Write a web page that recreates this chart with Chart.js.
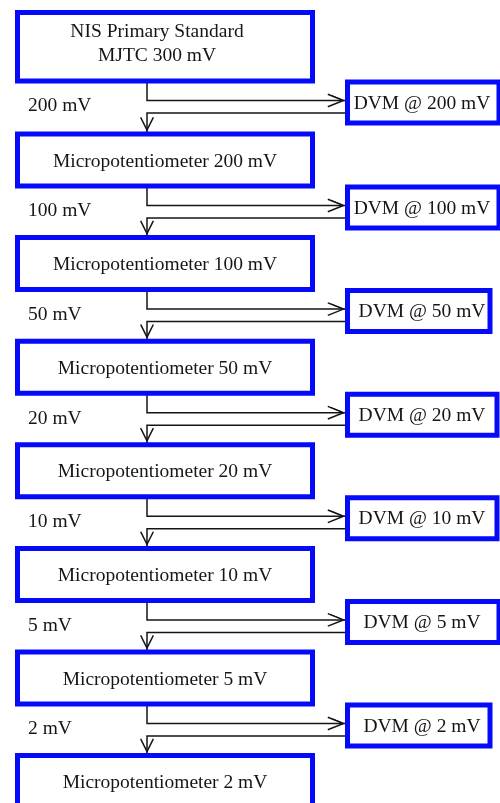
<!DOCTYPE html>
<html>
<head>
<meta charset="utf-8">
<script src="https://cdn.jsdelivr.net/npm/chart.js@4.4.1/dist/chart.umd.min.js"></script>
<style>
  html, body { margin: 0; padding: 0; background: #fff; }
  #wrap { width: 500px; height: 803px; position: relative; }
</style>
</head>
<body>
<div id="wrap"><canvas id="flow"></canvas></div>
<script>
// Diagram content
const stageLabels = [
  ['NIS Primary Standard', 'MJTC 300 mV'],
  ['Micropotentiometer 200 mV'],
  ['Micropotentiometer 100 mV'],
  ['Micropotentiometer 50 mV'],
  ['Micropotentiometer 20 mV'],
  ['Micropotentiometer 10 mV'],
  ['Micropotentiometer 5 mV'],
  ['Micropotentiometer 2 mV'],
];
const stepLabels = ['200 mV', '100 mV', '50 mV', '20 mV', '10 mV', '5 mV', '2 mV'];
const dvmLabels = ['DVM @ 200 mV', 'DVM @ 100 mV', 'DVM @ 50 mV', 'DVM @ 20 mV',
  'DVM @ 10 mV', 'DVM @ 5 mV', 'DVM @ 2 mV'];

// Layout (in axis units, axes span the page 1:1)
const layout = {
  boxLeft: 17.5, boxRight: 312.5,
  firstTop: 12.5, firstBottom: 81,
  rowTop: 134, pitch: 103.6, boxH: 52,
  stemX: 147, drop: 19.5, lineGap: 12.5,
  dvmLeft: 347.5, dvmRight: [499, 499, 490, 497, 497, 499, 490],
  dvmAbove: 18.5, dvmH: 41,
  textX: 165, firstTextX: 157, dvmTextX: 422, stepX: 28,
};
const blue = 'rgb(5, 10, 250)';
const ink = '#151515';
const font = '19.5px "Liberation Serif", "Times New Roman", serif';

function stageTop(i) { return i === 0 ? layout.firstTop : layout.rowTop + (i - 1) * layout.pitch; }
function stageBottom(i) {
  if (i === 0) return layout.firstBottom;
  if (i === stageLabels.length - 1) return 840;
  return stageTop(i) + layout.boxH;
}
function upperY(i) { return stageBottom(i) + layout.drop; }
function lowerY(i) { return upperY(i) + layout.lineGap; }

function rect(l, t, r, b) {
  return [{ x: l, y: t }, { x: r, y: t }, { x: r, y: b }, { x: l, y: b }, { x: l, y: t }];
}

const datasets = [];
function addLine(data, color, width) {
  datasets.push({
    data, borderColor: color, borderWidth: width, pointRadius: 0, showLine: true,
    fill: false, tension: 0, borderJoinStyle: 'miter', borderCapStyle: 'square',
  });
}

stageLabels.forEach((s, i) => {
  addLine(rect(layout.boxLeft, stageTop(i), layout.boxRight, stageBottom(i)), blue, 5);
});

stepLabels.forEach((s, i) => {
  const up = upperY(i), lo = lowerY(i), next = stageTop(i + 1);
  const dTop = up - layout.dvmAbove;
  addLine(rect(layout.dvmLeft, dTop, layout.dvmRight[i], dTop + layout.dvmH), blue, 5);
  // out to the DVM
  addLine([{ x: layout.stemX, y: stageBottom(i) }, { x: layout.stemX, y: up }, { x: layout.dvmLeft - 2, y: up }], ink, 1.5);
  addLine([{ x: layout.dvmLeft - 19, y: up - 6 }, { x: layout.dvmLeft - 4, y: up }, { x: layout.dvmLeft - 19, y: up + 6 }], ink, 1.5);
  addLine([{ x: layout.dvmLeft - 16, y: up - 5 }, { x: layout.dvmLeft - 6, y: up - 1 }], ink, 1);
  // back down to the next stage
  addLine([{ x: layout.dvmLeft - 2, y: lo }, { x: layout.stemX, y: lo }, { x: layout.stemX, y: next - 2 }], ink, 1.5);
  addLine([{ x: layout.stemX - 6, y: next - 16 }, { x: layout.stemX, y: next - 4 }, { x: layout.stemX + 6, y: next - 16 }], ink, 1.5);
});

const textPlugin = {
  id: 'flowText',
  afterDatasetsDraw(chart) {
    const { ctx, scales: { x, y } } = chart;
    ctx.save();
    ctx.font = font;
    ctx.fillStyle = ink;
    ctx.textBaseline = 'middle';
    ctx.textAlign = 'center';
    stageLabels.forEach((lines, i) => {
      if (i === 0) {
        ctx.fillText(lines[0], x.getPixelForValue(layout.firstTextX), y.getPixelForValue(32));
        ctx.fillText(lines[1], x.getPixelForValue(layout.firstTextX), y.getPixelForValue(56));
      } else {
        const cy = stageTop(i) + layout.boxH / 2 + 1.5;
        ctx.fillText(lines[0], x.getPixelForValue(layout.textX), y.getPixelForValue(cy));
      }
    });
    stepLabels.forEach((s, i) => {
      const up = upperY(i);
      const cy = up - layout.dvmAbove + layout.dvmH / 2 + 1;
      ctx.textAlign = 'center';
      ctx.fillText(dvmLabels[i], x.getPixelForValue(layout.dvmTextX), y.getPixelForValue(cy));
      ctx.textAlign = 'left';
      ctx.fillText(s, x.getPixelForValue(layout.stepX), y.getPixelForValue((up + lowerY(i)) / 2 - 0.5));
    });
    ctx.restore();
  }
};

new Chart(document.getElementById('flow'), {
  type: 'scatter',
  data: { datasets },
  options: {
    responsive: true,
    maintainAspectRatio: false,
    animation: false,
    layout: { padding: 0 },
    plugins: { legend: { display: false }, tooltip: { enabled: false } },
    events: [],
    scales: {
      x: { type: 'linear', min: 0, max: 500, display: false },
      y: { type: 'linear', min: 0, max: 803, reverse: true, display: false },
    },
  },
  plugins: [textPlugin],
});
</script>
</body>
</html>
